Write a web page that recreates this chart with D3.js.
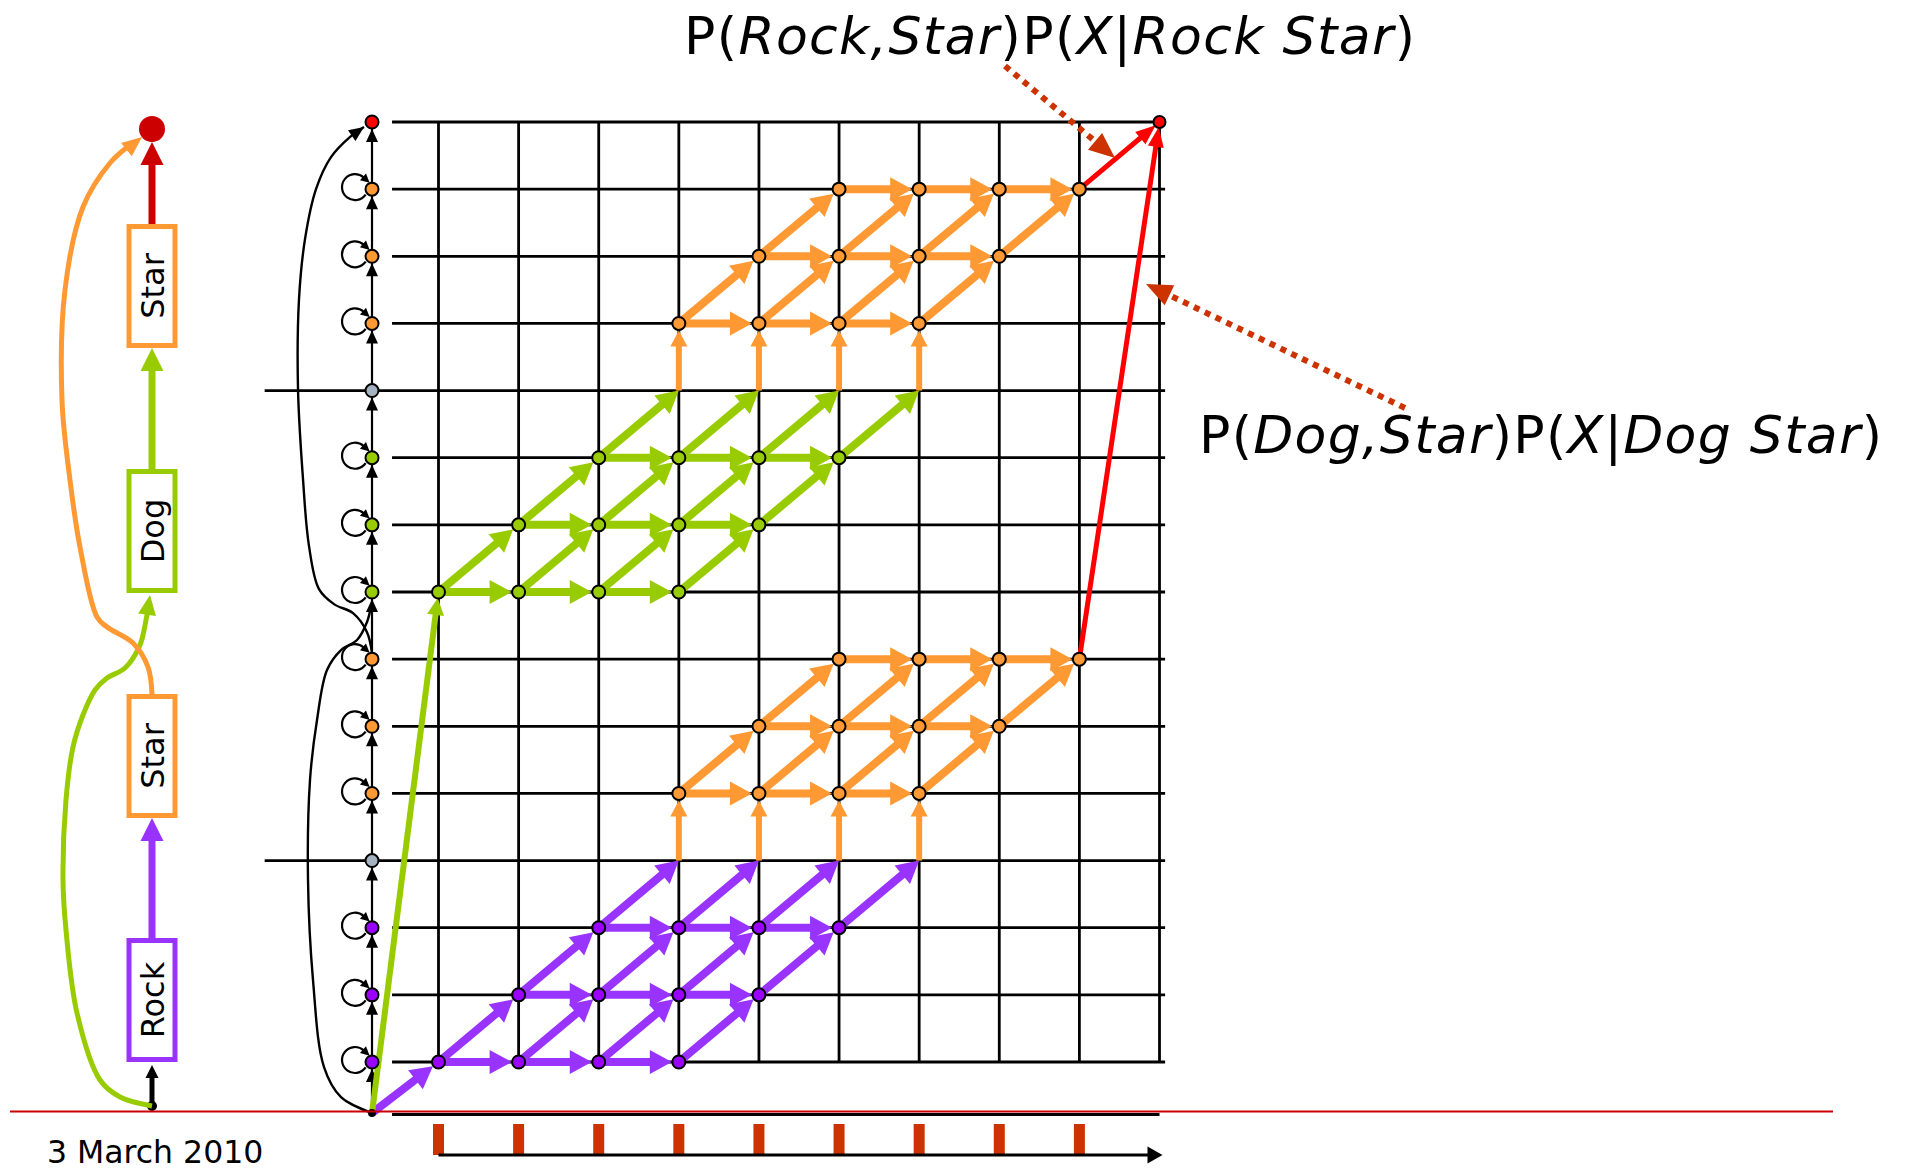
<!DOCTYPE html>
<meta charset="utf-8">
<script src="https://d3js.org/d3.v7.min.js"></script>
<style>
  body { margin: 0; padding: 0; background: white; }
  svg { display: block; font-family: "DejaVu Sans", Verdana, sans-serif; }
</style>
<body>
<svg id="chart" width="1906" height="1170"></svg>
<script>

// words of the two hypotheses, bottom to top in the left graph
var words = ["Rock", "Star", "Dog", "Star"];
var wordFollows = [1, null, 3, null];          // next word of the same hypothesis
var wordColor = { Rock: "#9933ff", Star: "#ff9933", Dog: "#99cc00" };
var nodeColor = { Rock: "#9900ff", Star: "#ff9933", Dog: "#99cc00", gap: "#a5b3c1", end: "#ff0000" };

// states of the flattened model, one row each, bottom to top
var rowStates = ["Rock", "Rock", "Rock", "gap", "Star", "Star", "Star",
                 "Dog", "Dog", "Dog", "gap", "Star", "Star", "Star", "end"];
var startRow = -0.76;

// the two paths through the trellis
var paths = [
  { rows: [[0, 1, 2], [4, 5, 6]], gap: 3, firstFrame: [0, 3], entry: "thick" },
  { rows: [[7, 8, 9], [11, 12, 13]], gap: 10, firstFrame: [0, 3], entry: "thin" }
];
var framesPerState = 4;
var frames = [0, 1, 2, 3, 4, 5, 6, 7, 8, 9];
var tickFrames = [0, 1, 2, 3, 4, 5, 6, 7, 8];
var exitFrame = 8;

var notes = [
  { parts: [["P(", 0], ["Rock,Star", 1], [")P(", 0], ["X", 1], ["|", 0], ["Rock Star", 1], [")", 0]] },
  { parts: [["P(", 0], ["Dog,Star", 1], [")P(", 0], ["X", 1], ["|", 0], ["Dog Star", 1], [")", 0]] }
];
var dateText = "3 March 2010";

var svg = d3.select("#chart");

var x = d3.scaleLinear().domain([0, 9]).range([438.5, 1159.5]);
var y = d3.scaleLinear().domain([0, 14]).range([1062, 122]);
var colX = x(-0.83), startY = y(startRow);
var endRow = rowStates.length - 1;

var gGrid = svg.append("g");
var gCol = svg.append("g");
var gArr = svg.append("g");
var gNode = svg.append("g");
var gLeft = svg.append("g");
var gNote = svg.append("g");

// straight arrow with a filled head
function arrow(g, p1, p2, o) {
  var dx = p2[0] - p1[0], dy = p2[1] - p1[1], L = Math.hypot(dx, dy);
  var ux = dx / L, uy = dy / L;
  var tip = [p2[0] - ux * (o.gap || 0), p2[1] - uy * (o.gap || 0)];
  var base = [tip[0] - ux * o.hl, tip[1] - uy * o.hl];
  g.append("line")
    .attr("x1", p1[0]).attr("y1", p1[1])
    .attr("x2", base[0] + ux * 2).attr("y2", base[1] + uy * 2)
    .attr("stroke", o.color).attr("stroke-width", o.w)
    .attr("stroke-dasharray", o.dash || null);
  head(g, base, tip, o);
}
function head(g, from, tip, o) {
  var dx = tip[0] - from[0], dy = tip[1] - from[1], L = Math.hypot(dx, dy);
  var ux = dx / L, uy = dy / L, nx = -uy, ny = ux, h = o.hw / 2;
  var b = [tip[0] - ux * o.hl, tip[1] - uy * o.hl];
  g.append("path")
    .attr("d", "M" + tip + "L" + [b[0] + nx * h, b[1] + ny * h] + "L" + [b[0] - nx * h, b[1] - ny * h] + "Z")
    .attr("fill", o.color);
}
var curve = d3.line().curve(d3.curveCatmullRom.alpha(0.5));

// ---- grid
frames.forEach(function (f) {
  gGrid.append("line").attr("x1", x(f)).attr("x2", x(f))
    .attr("y1", y(endRow)).attr("y2", y(0))
    .attr("stroke", "#000").attr("stroke-width", 2.8);
});
rowStates.forEach(function (s, r) {
  gGrid.append("line")
    .attr("x1", s === "gap" ? x(-2.17) : x(-0.58))
    .attr("x2", s === "end" ? x(9) : x(9.07))
    .attr("y1", y(r)).attr("y2", y(r))
    .attr("stroke", "#000").attr("stroke-width", 2.8);
});
gGrid.append("line").attr("x1", x(-0.58)).attr("x2", x(9))
  .attr("y1", startY + 1.5).attr("y2", startY + 1.5)
  .attr("stroke", "#000").attr("stroke-width", 3);

// ---- state column
gCol.append("line").attr("x1", colX).attr("x2", colX)
  .attr("y1", startY).attr("y2", y(endRow))
  .attr("stroke", "#000").attr("stroke-width", 2.2);
rowStates.forEach(function (s, r) {
  var prev = r === 0 ? startY : y(r - 1);
  head(gCol, [colX, prev], [colX, y(r) + 7], { color: "#000", hl: 13, hw: 12 });
  if (s !== "gap" && s !== "end") {
    var c = [colX - 17, y(r) - 2], R = 13, a0 = 35 * Math.PI / 180, a1 = 312 * Math.PI / 180;
    var p0 = [c[0] + R * Math.cos(a0), c[1] + R * Math.sin(a0)];
    var p1 = [c[0] + R * Math.cos(a1), c[1] + R * Math.sin(a1)];
    gCol.append("path").attr("d", "M" + p0 + "A" + R + "," + R + " 0 1,1 " + p1)
      .attr("fill", "none").attr("stroke", "#000").attr("stroke-width", 2.2);
    var t = [-Math.sin(a1), Math.cos(a1)];
    head(gCol, p1, [p1[0] + t[0] * 8, p1[1] + t[1] * 8], { color: "#000", hl: 9, hw: 9 });
  }
});

// long jumps: start -> Dog, first Star -> end
var cx = colX, sy = startY, y7 = y(paths[1].rows[0][0]), y6 = y(paths[0].rows[1][2]);
var jumpB = [[cx, sy], [cx - 31, sy - 16], [cx - 48, sy - 46], [cx - 59, sy - 133], [cx - 64, sy - 233],
  [cx - 62, sy - 333], [cx - 55, sy - 393], [cx - 45, sy - 443], [cx - 31, sy - 463], [cx - 15, sy - 473],
  [cx - 5, sy - 491], [cx - 1, y7 + 14]];
var jumpA = [[cx, y6 - 6], [cx - 5, y6 - 27], [cx - 19, y6 - 46], [cx - 38, y6 - 55], [cx - 53, y6 - 70],
  [cx - 63, y6 - 113], [cx - 69, y6 - 180], [cx - 74, y6 - 270], [cx - 73, y6 - 360], [cx - 67, y6 - 420],
  [cx - 56, y6 - 470], [cx - 41, y6 - 502], [cx - 21, y6 - 523], [cx - 8, y(endRow) + 5]];
[jumpB, jumpA].forEach(function (pts) {
  gCol.append("path").attr("d", curve(pts)).attr("fill", "none")
    .attr("stroke", "#000").attr("stroke-width", 2.4);
});
head(gCol, jumpA[jumpA.length - 2], jumpA[jumpA.length - 1], { color: "#000", hl: 15, hw: 13 });

// ---- trellis arrows
var big = { w: 8, hl: 22, hw: 24 };
function opt(color, extra) { return Object.assign({ color: color }, big, extra || {}); }

paths.forEach(function (p) {
  p.rows.forEach(function (wr, wi) {
    var word = rowStates[wr[0]], col = wordColor[word], f0 = p.firstFrame[wi];
    if (wi === 1) {
      d3.range(f0, f0 + framesPerState).forEach(function (f) {
        arrow(gArr, [x(f), y(p.gap)], [x(f), y(wr[0])], { color: col, w: 6, hl: 16, hw: 17, gap: 7 });
      });
    }
    wr.forEach(function (r, k) {
      var a = f0 + k, b = a + framesPerState - 1;
      d3.range(a, b + 1).forEach(function (f) {
        if (k < wr.length - 1)
          arrow(gArr, [x(f), y(r)], [x(f + 1), y(wr[k + 1])], opt(col, { gap: 7 }));
        else if (wi === 0)
          arrow(gArr, [x(f), y(r)], [x(f + 1), y(p.gap)], opt(col, { gap: 0 }));
      });
      d3.range(a, b).forEach(function (f) {
        arrow(gArr, [x(f), y(r)], [x(f + 1), y(r)], opt(col, { gap: 7 }));
      });
    });
  });
  var first = p.rows[0][0], fc = wordColor[rowStates[first]];
  if (p.entry === "thick") arrow(gArr, [colX, startY], [x(0), y(first)], opt(fc, { gap: 7 }));
  else arrow(gArr, [colX, startY], [x(0), y(first)], { color: fc, w: 6, hl: 17, hw: 17, gap: 6 });
  var last = p.rows[1][2];
  arrow(gArr, [x(exitFrame), y(last)], [x(9), y(endRow)], { color: "#ff0000", w: 5, hl: 20, hw: 16, gap: 5 });
});

// ---- nodes
paths.forEach(function (p) {
  p.rows.forEach(function (wr, wi) {
    wr.forEach(function (r, k) {
      var a = p.firstFrame[wi] + k;
      d3.range(a, a + framesPerState).forEach(function (f) {
        gNode.append("circle").attr("cx", x(f)).attr("cy", y(r)).attr("r", 6.5)
          .attr("fill", nodeColor[rowStates[r]]).attr("stroke", "#000").attr("stroke-width", 2);
      });
    });
  });
});
gNode.append("circle").attr("cx", x(9)).attr("cy", y(endRow)).attr("r", 6)
  .attr("fill", nodeColor.end).attr("stroke", "#000").attr("stroke-width", 2);
rowStates.forEach(function (s, r) {
  gNode.append("circle").attr("cx", colX).attr("cy", y(r)).attr("r", 6.5)
    .attr("fill", nodeColor[s]).attr("stroke", "#000").attr("stroke-width", 2);
});
gNode.append("circle").attr("cx", colX).attr("cy", startY).attr("r", 4).attr("fill", "#000");

// ---- frame ticks and time axis
tickFrames.forEach(function (f) {
  gGrid.append("rect").attr("x", x(f) - 5.5).attr("y", 1124).attr("width", 11).attr("height", 31)
    .attr("fill", "#cc3300");
});
arrow(gGrid, [x(0), 1155], [x(9) + 3, 1155], { color: "#000", w: 3, hl: 15, hw: 17 });

// red base line
svg.append("line").attr("x1", 10).attr("x2", 1833).attr("y1", 1111.5).attr("y2", 1111.5)
  .attr("stroke", "#cc0000").attr("stroke-width", 2);

// ---- left word graph
var bx = 152;
var wordY = d3.scaleOrdinal().domain(d3.range(words.length)).range([1000, 756, 531, 286]);
var half = 62, dotY = startY - 7;
var topY = wordY(words.length - 1) - half - 95;

words.forEach(function (w, i) {
  var cy = wordY(i);
  if (wordFollows[i] != null) {
    arrow(gLeft, [bx, cy - half], [bx, wordY(wordFollows[i]) + half], { color: wordColor[w], w: 7, hl: 23, hw: 23, gap: 0 });
  }
  gLeft.append("rect").attr("x", bx - 23).attr("y", cy - 59.5).attr("width", 46).attr("height", 119)
    .attr("fill", "#fff").attr("stroke", wordColor[w]).attr("stroke-width", 5);
  gLeft.append("text").attr("transform", "translate(" + (bx + 1) + "," + cy + ") rotate(-90)")
    .attr("text-anchor", "middle").attr("dominant-baseline", "central")
    .attr("font-size", 32).attr("fill", "#000").text(w);
});
var lastW = words.length - 1;
arrow(gLeft, [bx, wordY(lastW) - half], [bx, topY + 13], { color: "#cc0000", w: 7, hl: 23, hw: 23 });
gLeft.append("circle").attr("cx", bx).attr("cy", topY).attr("r", 13).attr("fill", "#cc0000");
arrow(gLeft, [bx, dotY], [bx, wordY(0) + half + 3], { color: "#000", w: 5, hl: 13, hw: 13 });
gLeft.append("circle").attr("cx", bx).attr("cy", dotY).attr("r", 5).attr("fill", "#000");

var tb = wordY(2) + half, ts = wordY(1) - half;
var greenPts = [[bx, dotY], [bx - 32, dotY - 9], [bx - 52, dotY - 26], [bx - 75, dotY - 93], [bx - 86, dotY - 176],
  [bx - 89, dotY - 226], [bx - 86, dotY - 306], [bx - 79, dotY - 359], [bx - 69, dotY - 391], [bx - 57, dotY - 416],
  [bx - 45, dotY - 428], [bx - 27, dotY - 438], [bx - 12, dotY - 461], [bx - 5, dotY - 491], [bx - 2, tb + 2]];
var orangePts = [[bx, ts], [bx - 4, ts - 27], [bx - 19, ts - 51], [bx - 45, ts - 67], [bx - 55, ts - 77],
  [bx - 72, ts - 147], [bx - 82, ts - 214], [bx - 90, ts - 294], [bx - 87, ts - 404], [bx - 69, ts - 487],
  [bx - 42, ts - 531], [bx - 22, ts - 549], [bx - 10, ts - 557]];
gLeft.append("path").attr("d", curve(greenPts.slice(0, -1).concat([[bx - 3, tb + 14]]))).attr("fill", "none")
  .attr("stroke", wordColor.Dog).attr("stroke-width", 5);
head(gLeft, greenPts[greenPts.length - 2], greenPts[greenPts.length - 1], { color: wordColor.Dog, hl: 20, hw: 18 });
gLeft.append("path").attr("d", curve(orangePts.slice(0, -1))).attr("fill", "none")
  .attr("stroke", wordColor.Star).attr("stroke-width", 5);
head(gLeft, orangePts[orangePts.length - 3], orangePts[orangePts.length - 1], { color: wordColor.Star, hl: 20, hw: 17 });

// ---- annotations
var notePos = [{ x: 684, y: 54, len: 731 }, { x: 1199, y: 453, len: 683 }];
notes.forEach(function (n, i) {
  var t = gNote.append("text").attr("x", notePos[i].x).attr("y", notePos[i].y)
    .attr("font-size", 52).attr("fill", "#000")
    .attr("textLength", notePos[i].len).attr("lengthAdjust", "spacing");
  n.parts.forEach(function (pt) {
    t.append("tspan").attr("font-style", pt[1] ? "italic" : null).text(pt[0]);
  });
});
var dot = { color: "#cc3300", w: 6, hl: 26, hw: 22, dash: "6,6" };
arrow(gNote, [1005, 66], [1115, 158], dot);
arrow(gNote, [1405, 408], [1146, 284], dot);

svg.append("text").attr("x", 47).attr("y", 1163).attr("font-size", 31.5).attr("fill", "#000").text(dateText);

</script>
</body>
